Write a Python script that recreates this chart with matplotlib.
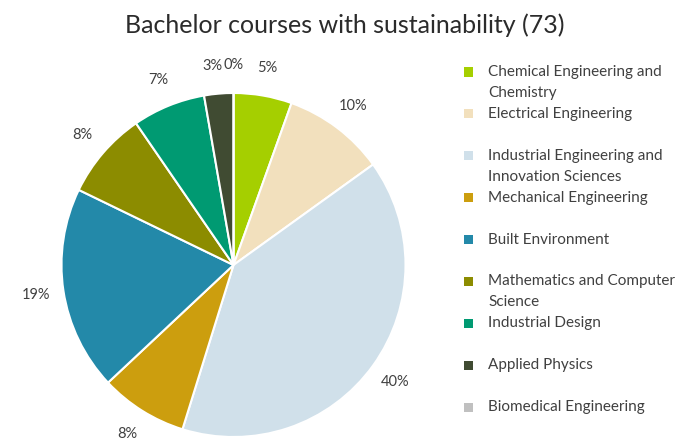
import matplotlib.pyplot as plt
from matplotlib.patches import Rectangle

plt.rcParams['font.family'] = ['Lato', 'DejaVu Sans']

# course counts per department (73 in total)
departments = ['Chemical Engineering and\nChemistry', 'Electrical Engineering',
               'Industrial Engineering and\nInnovation Sciences', 'Mechanical Engineering',
               'Built Environment', 'Mathematics and Computer\nScience', 'Industrial Design',
               'Applied Physics', 'Biomedical Engineering']
counts = [4, 7, 29, 6, 14, 6, 5, 2, 0]
colors = ['#a5cf00', '#f2e0bd', '#d0e0ea', '#cc9e0e', '#2389a9',
          '#8c8c00', '#009a72', '#404b32', '#c0c0c0']

W, H = 678, 441
fig = plt.figure(figsize=(W / 100, H / 100), dpi=100)

# pie centre and radius in pixels
cx, cy, r = 233.5, 265, 172
ax = fig.add_axes([(cx - r) / W, (H - cy - r) / H, 2 * r / W, 2 * r / H])
wedges, texts, autotexts = ax.pie(counts, colors=colors, startangle=90, counterclock=False,
                                  autopct='%.0f%%', pctdistance=1.16,
                                  wedgeprops=dict(edgecolor='white', linewidth=1.5))
for t in autotexts:
    t.set_fontsize(10.5)
    t.set_color('#404040')
# the two tiny slices at the top sit side by side, push the 3% a bit left
px, py = autotexts[7].get_position()
autotexts[7].set_position((px - 0.02, py))
ax.set_xlim(-1, 1)
ax.set_ylim(-1, 1)
ax.axis('off')

fig.text(345 / W, 1 - 25 / H, 'Bachelor courses with sustainability (73)',
         ha='center', va='center', fontsize=18, color='#2b2b2b')

# hand-made legend
y0, step = 72, 41.9
for i, (name, c) in enumerate(zip(departments, colors)):
    y = y0 + i * step
    fig.patches.append(Rectangle(((468 - 4.5) / W, 1 - (y + 4.5) / H), 9 / W, 9 / H,
                                 transform=fig.transFigure, facecolor=c, edgecolor='none'))
    for k, line in enumerate(name.split('\n')):
        fig.text(488 / W, 1 - (y + k * 21) / H, line, ha='left', va='center',
                 fontsize=11, color='#404040')

fig.savefig('out.png', dpi=100)
